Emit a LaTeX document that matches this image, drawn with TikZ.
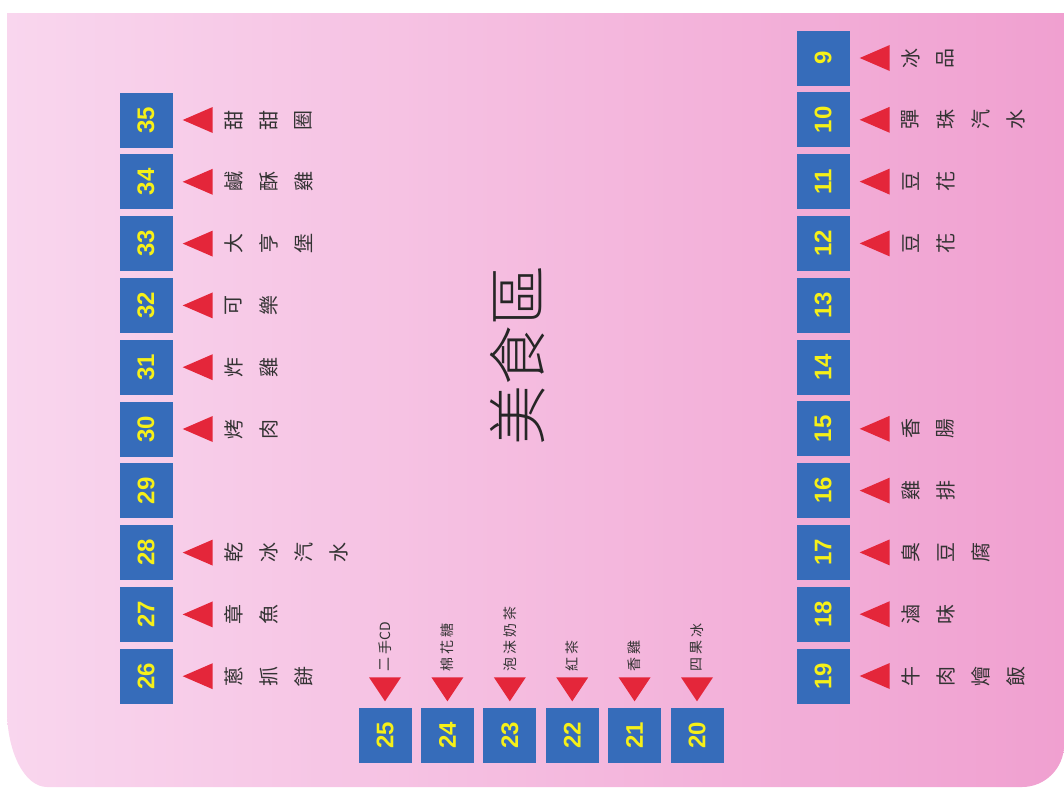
\documentclass[tikz,border=0pt]{standalone}
\usepackage{fontspec}
\setsansfont{Liberation Sans}
\newfontfamily\cjk{Noto Sans CJK TC}
\newfontfamily\cjkthin{Noto Sans CJK TC Light}
\usetikzlibrary{positioning}
\definecolor{stallblue}{RGB}{54,108,186}
\definecolor{stallyellow}{RGB}{246,240,24}
\definecolor{pointred}{RGB}{228,38,58}
\definecolor{pinkleft}{RGB}{249,214,238}
\definecolor{pinkright}{RGB}{240,160,208}
\tikzset{
  stall/.style={fill=stallblue, minimum width=53pt, minimum height=55pt, inner sep=0pt,
    text=stallyellow, font=\sffamily\bfseries\fontsize{24}{24}\selectfont},
  pointer/.style={fill=pointred},
  shopname/.style={rotate=90, inner sep=0pt, text=black!80,
    font=\cjk\fontsize{20}{20}\selectfont},
  shopsmall/.style={rotate=90, inner sep=0pt, text=black!80,
    font=\cjk\fontsize{14}{14}\selectfont}
}

\begin{document}
\begin{tikzpicture}[x=1pt, y=-1pt]
  \useasboundingbox (0,0) rectangle (1064,787);
  % pink floor
  \shade[left color=pinkleft, right color=pinkright]
    (7,13) -- (1064,13) -- (1064,745) arc[start angle=0, end angle=90, radius=42]
    -- (47,787) arc[start angle=90, end angle=180, x radius=40, y radius=77] -- cycle;

  \node[rotate=90, font=\cjkthin\fontsize{60}{60}\selectfont, text=black!85] (title) at (518,355) {美食區};

  % stalls
  \foreach \n [count=\k, evaluate=\k as \y using 120+61.8*(\k-1)] in {35,34,...,26}
    \node[stall] (s\n) at (146,\y) {\rotatebox{90}{\n}};
  \foreach \n [count=\k, evaluate=\k as \y using 58+61.8*(\k-1)] in {9,10,...,19}
    \node[stall] (s\n) at (823,\y) {\rotatebox{90}{\n}};
  \foreach \n [count=\k, evaluate=\k as \x using 385+62.4*(\k-1)] in {25,24,...,20}
    \node[stall] (s\n) at (\x,735) {\rotatebox{90}{\n}};

  % side names
  \foreach \n/\names in {35/{甜,甜,圈}, 34/{鹹,酥,雞}, 33/{大,亨,堡}, 32/{可,樂},
      31/{炸,雞}, 30/{烤,肉}, 28/{乾,冰,汽,水}, 27/{章,魚}, 26/{蔥,抓,餅},
      9/{冰,品}, 10/{彈,珠,汽,水}, 11/{豆,花}, 12/{豆,花}, 15/{香,腸},
      16/{雞,排}, 17/{臭,豆,腐}, 18/{滷,味}, 19/{牛,肉,燴,飯}}{
    \fill[pointer] ([xshift=10pt]s\n.east) -- ++(30,-13) -- ++(0,26) -- cycle;
    \foreach \c [count=\i] in \names
      \node[shopname] (s\n-\i) at ([xshift={26pt+35pt*\i}]s\n.east) {\c};
  }

  % bottom names
  \foreach \n/\names in {25/{二,手,CD}, 24/{棉,花,糖}, 23/{泡,沫,奶,茶},
      22/{紅,茶}, 21/{香,雞}, 20/{四,果,冰}}{
    \fill[pointer] ([yshift=6pt]s\n.north) -- ++(-16,-24) -- ++(32,0) -- cycle;
    \foreach \c [count=\i] in \names
      \node[shopsmall] (s\n-\i) at ([yshift={25.5pt+17pt*\i}]s\n.north) {\c};
  }
\end{tikzpicture}
\end{document}
